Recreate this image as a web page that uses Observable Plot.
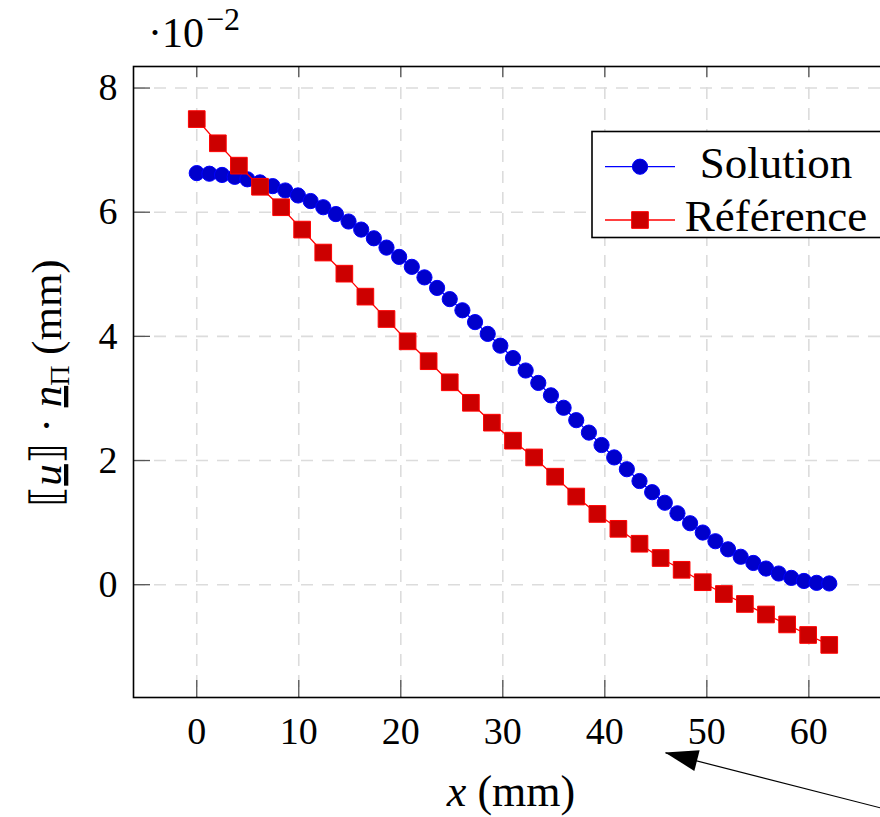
<!DOCTYPE html>
<html><head><meta charset="utf-8">
<script src="https://cdn.jsdelivr.net/npm/d3@7"></script>
<script src="https://cdn.jsdelivr.net/npm/@observablehq/plot@0.6"></script>
<style>
html,body{margin:0;padding:0;background:#fff;overflow:hidden;width:880px;height:817px;}
</style></head><body><div id="chart"></div>
<script>
// ---- data (y values in units of 1e-2 mm) ----
const solutionX = [0, 1.24, 2.48, 3.72, 4.96, 6.2, 7.44, 8.68, 9.92, 11.16, 12.4, 13.64, 14.88, 16.12, 17.36, 18.6, 19.84, 21.08, 22.32, 23.56, 24.8, 26.04, 27.28, 28.52, 29.76, 31, 32.24, 33.48, 34.72, 35.96, 37.2, 38.44, 39.68, 40.92, 42.16, 43.4, 44.64, 45.88, 47.12, 48.36, 49.6, 50.84, 52.08, 53.32, 54.56, 55.8, 57.04, 58.28, 59.52, 60.76, 62];
const solutionY = [6.63, 6.62, 6.60, 6.57, 6.53, 6.48, 6.42, 6.35, 6.27, 6.18, 6.08, 5.97, 5.85, 5.72, 5.58, 5.43, 5.28, 5.12, 4.95, 4.78, 4.60, 4.42, 4.23, 4.04, 3.85, 3.65, 3.45, 3.25, 3.05, 2.85, 2.65, 2.45, 2.25, 2.05, 1.86, 1.67, 1.49, 1.32, 1.15, 0.99, 0.84, 0.70, 0.57, 0.45, 0.35, 0.26, 0.18, 0.11, 0.06, 0.03, 0.02];
const referenceX = [0, 2.07, 4.13, 6.2, 8.27, 10.33, 12.4, 14.47, 16.53, 18.6, 20.67, 22.73, 24.8, 26.87, 28.93, 31, 33.07, 35.13, 37.2, 39.27, 41.33, 43.4, 45.47, 47.53, 49.6, 51.67, 53.73, 55.8, 57.87, 59.93, 62];
const referenceY = [7.50, 7.11, 6.75, 6.41, 6.08, 5.72, 5.35, 5.01, 4.64, 4.28, 3.92, 3.60, 3.26, 2.93, 2.61, 2.32, 2.05, 1.74, 1.42, 1.14, 0.90, 0.66, 0.43, 0.24, 0.04, -0.15, -0.31, -0.48, -0.64, -0.81, -0.97];
const seriesNames = ["Solution", "Référence"];
const xTicks = [0, 10, 20, 30, 40, 50, 60];
const yTicks = [0, 2, 4, 6, 8];
const xDomain = [-6.2, 68.2];
const yDomain = [-1.817, 8.347];
const arrowNote = [{x1: 70, y1: -3.72, x2: 45.95, y2: -2.71}];

const solution = solutionX.map((x, i) => ({x, y: solutionY[i]}));
const reference = referenceX.map((x, i) => ({x, y: referenceY[i]}));

const W = 892, H = 817, mL = 133, mR = 0, mT = 66, mB = 120;
const plotW = W - mL - mR, plotH = H - mT - mB;
const font = "'Liberation Serif', 'Times New Roman', serif";
const blueLine = "#0000ff", blueFill = "#0000cc", redLine = "#ff0000", redFill = "#cc0000";
const gridStyle = {stroke: "#dcdcdc", strokeOpacity: 1, strokeWidth: 1.6, strokeDasharray: "12,9"};
const tickStroke = {stroke: "#555", strokeWidth: 1.3};

const plot = Plot.plot({
  width: W, height: H,
  marginLeft: mL, marginRight: mR, marginTop: mT, marginBottom: mB,
  x: {domain: xDomain},
  y: {domain: yDomain},
  style: {fontFamily: font, fontSize: "38px", maxWidth: "none", background: "white", overflow: "visible", color: "black"},
  marks: [
    Plot.gridX(xTicks, gridStyle),
    Plot.gridY(yTicks, gridStyle),
    Plot.ruleX(xTicks, {insetTop: plotH - 17, ...tickStroke}),
    Plot.ruleX(xTicks, {insetBottom: plotH - 11, ...tickStroke}),
    Plot.ruleY(yTicks, {insetRight: plotW - 17, ...tickStroke}),
    Plot.axisX(xTicks, {tickSize: 0, tickPadding: 20, label: null, fontSize: 38, fill: "black"}),
    Plot.axisY(yTicks, {tickSize: 0, tickPadding: 16, label: null, fontSize: 38, fill: "black", tickFormat: d => String(d)}),
    Plot.line(solution, {x: "x", y: "y", stroke: blueLine, strokeWidth: 1.3}),
    Plot.dot(solution, {x: "x", y: "y", r: 7.6, fill: blueFill, stroke: blueLine, strokeWidth: 1}),
    Plot.line(reference, {x: "x", y: "y", stroke: redLine, strokeWidth: 1.3}),
    Plot.dot(reference, {x: "x", y: "y", symbol: "square", r: 9.4, fill: redFill, stroke: redLine, strokeWidth: 1}),
    Plot.frame({stroke: "black", strokeWidth: 1.6}),
    Plot.link(arrowNote, {x1: "x1", y1: "y1", x2: "x2", y2: "y2", stroke: "black", strokeWidth: 1.2})
  ]
});
document.getElementById("chart").appendChild(plot);

const svg = d3.select(plot);
const sx = plot.scale("x"), sy = plot.scale("y");

// arrow head (filled), from annotation data through plot scales
arrowNote.forEach(a => {
  const tx = sx.apply(a.x2), ty = sy.apply(a.y2);
  const bx = sx.apply(a.x1), by = sy.apply(a.y1);
  const dx = tx - bx, dy = ty - by, len = Math.hypot(dx, dy);
  const ux = dx / len, uy = dy / len, nx = -uy, ny = ux;
  const L = 33, w = 10.7;
  const p = [[tx, ty], [tx - L * ux + w * nx, ty - L * uy + w * ny], [tx - L * ux - w * nx, ty - L * uy - w * ny]];
  svg.append("path").attr("d", "M" + p.map(q => q.join(",")).join("L") + "Z").attr("fill", "black");
});

// scale factor label
const sf = svg.append("text").attr("x", 148).attr("y", 47).attr("text-anchor", "start").attr("font-family", font).attr("font-size", 42).attr("fill", "black");
sf.append("tspan").text("·10");
sf.append("tspan").attr("dx", 2).attr("dy", -17).attr("font-size", 32).text("−2");

// x label
const xl = svg.append("text").attr("x", 511).attr("y", 806).attr("text-anchor", "middle").attr("font-family", font).attr("font-size", 44).attr("fill", "black");
xl.append("tspan").attr("font-style", "italic").text("x");
xl.append("tspan").text(" (mm)");

// y label
const yl = svg.append("text").attr("transform", "translate(61,383) rotate(-90)").attr("text-anchor", "middle").attr("font-family", font).attr("font-size", 43).attr("fill", "black");
yl.append("tspan").text("⟦");
yl.append("tspan").attr("font-style", "italic").style("text-decoration", "underline").text("u");
yl.append("tspan").text("⟧ · ");
yl.append("tspan").attr("font-style", "italic").style("text-decoration", "underline").text("n");
yl.append("tspan").attr("dy", 8).attr("font-size", 28).text("Π");
yl.append("tspan").attr("dy", -8).text(" (mm)");

// legend
const lg = svg.append("g").attr("font-family", font).attr("font-size", 45);
lg.append("rect").attr("x", 592).attr("y", 131.5).attr("width", 320).attr("height", 106).attr("fill", "white").attr("stroke", "black").attr("stroke-width", 1.6);
const rows = [
  {name: seriesNames[0], cy: 166.7, base: 178, line: blueLine, fill: blueFill, sym: d3.symbolCircle, r: 7.6},
  {name: seriesNames[1], cy: 220, base: 231, line: redLine, fill: redFill, sym: d3.symbolSquare, r: 9.4}
];
rows.forEach(r => {
  lg.append("line").attr("x1", 605).attr("x2", 675).attr("y1", r.cy).attr("y2", r.cy).attr("stroke", r.line).attr("stroke-width", 1.3);
  lg.append("path").attr("d", d3.symbol(r.sym, Math.PI * r.r * r.r)()).attr("transform", `translate(640,${r.cy})`).attr("fill", r.fill).attr("stroke", r.line).attr("stroke-width", 1);
  lg.append("text").attr("x", 776).attr("y", r.base).attr("text-anchor", "middle").attr("fill", "black").text(r.name);
});
</script>
</body></html>
